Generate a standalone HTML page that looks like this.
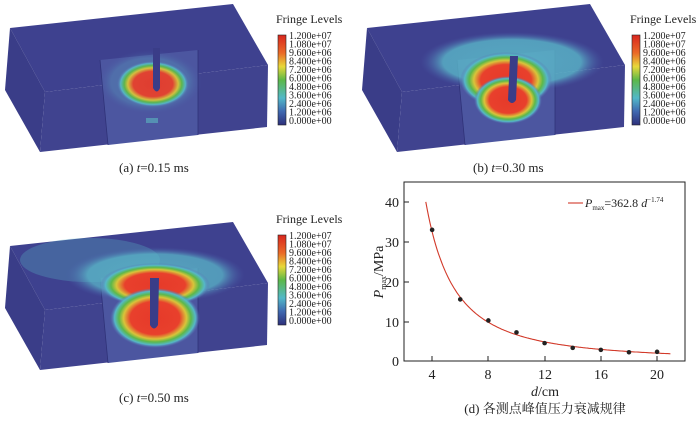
<!DOCTYPE html>
<html><head><meta charset="utf-8"><style>
html,body{margin:0;padding:0;background:#fff;width:700px;height:421px;overflow:hidden}
svg{display:block;font-family:"Liberation Serif","Noto Serif CJK SC",serif}
</style></head><body>
<svg width="700" height="421" viewBox="0 0 700 421" xmlns="http://www.w3.org/2000/svg">
<defs>
<radialGradient id="hot" cx="50%" cy="50%" r="50%">
<stop offset="0" stop-color="#e63a2a"/><stop offset="0.55" stop-color="#e8402c"/>
<stop offset="0.7" stop-color="#d9c43a"/><stop offset="0.8" stop-color="#5cb84a"/>
<stop offset="0.9" stop-color="#55b8c8"/><stop offset="1" stop-color="#5a6ab0" stop-opacity="0"/></radialGradient>
<radialGradient id="halo" cx="50%" cy="50%" r="50%">
<stop offset="0" stop-color="#5cc0cc"/><stop offset="0.75" stop-color="#5ab6c8"/>
<stop offset="1" stop-color="#4a5aa8" stop-opacity="0"/></radialGradient>
<linearGradient id="cb" x1="0" y1="0" x2="0" y2="1">
<stop offset="0" stop-color="#d8261e"/><stop offset="0.2" stop-color="#ea6a28"/>
<stop offset="0.35" stop-color="#e8d83a"/><stop offset="0.5" stop-color="#5cb848"/>
<stop offset="0.7" stop-color="#52b8c8"/><stop offset="0.85" stop-color="#3f68b0"/>
<stop offset="1" stop-color="#2d2f7a"/></linearGradient>
<g id="cbar">
<rect x="0" y="0" width="8" height="90" fill="url(#cb)" stroke="#222" stroke-width="0.6"/>
<g font-size="10" fill="#222">
<text x="11" y="4">1.200e+07</text><text x="11" y="12.5">1.080e+07</text><text x="11" y="21">9.600e+06</text>
<text x="11" y="29.5">8.400e+06</text><text x="11" y="38">7.200e+06</text><text x="11" y="46.5">6.000e+06</text>
<text x="11" y="55">4.800e+06</text><text x="11" y="63.5">3.600e+06</text><text x="11" y="72">2.400e+06</text>
<text x="11" y="80.5">1.200e+06</text><text x="11" y="89">0.000e+00</text></g>
<text x="-2" y="-12" font-size="12" fill="#222">Fringe Levels</text>
</g>
<g id="box">
<polygon points="10,28 233,4 268,65 45,92" fill="#3e418f"/>
<polygon points="10,28 45,92 40,152 5,90" fill="#3a3d88"/>
<polygon points="45,92 268,65 267,127 40,152" fill="#40438f"/>
<polygon points="100,60 198,50 198,135 108,145" fill="#4c56a0"/>
<line x1="100" y1="60" x2="108" y2="145" stroke="#2f3278" stroke-width="0.8"/>
<line x1="198" y1="50" x2="198" y2="135" stroke="#2f3278" stroke-width="0.8"/>
</g>
</defs>

<!-- panel a -->
<use href="#box"/>
<ellipse cx="150" cy="82" rx="52" ry="32" fill="url(#halo)" opacity="0.25"/>
<ellipse cx="153" cy="84" rx="36" ry="23" fill="url(#hot)" opacity="0.95"/>
<rect x="146" y="118" width="12" height="5" fill="#5cb8c0" opacity="0.6"/>
<path d="M153,48 L160,48 L160,88 Q157,95 153,88 Z" fill="#3a3d88"/>
<use href="#cbar" x="278" y="35"/>
<text x="119" y="172" font-size="13" fill="#222">(a) <tspan font-style="italic">t</tspan>=0.15 ms</text>

<!-- panel b -->
<g transform="translate(357,0)"><use href="#box"/></g>
<ellipse cx="512" cy="62" rx="92" ry="30" fill="url(#halo)" opacity="0.8"/>
<ellipse cx="506" cy="80" rx="46" ry="28" fill="url(#hot)"/>
<ellipse cx="508" cy="100" rx="34" ry="24" fill="url(#hot)"/>
<path d="M510,56 L518,56 L516,100 Q512,106 508,100 Z" fill="#3a3d88"/>
<use href="#cbar" x="632" y="35"/>
<text x="473" y="172" font-size="13" fill="#222">(b) <tspan font-style="italic">t</tspan>=0.30 ms</text>

<!-- panel c -->
<g transform="translate(0,218)"><use href="#box"/></g>
<ellipse cx="90" cy="260" rx="70" ry="22" fill="#5ab6c8" opacity="0.3"/>
<ellipse cx="155" cy="275" rx="90" ry="28" fill="url(#halo)" opacity="0.75"/>
<ellipse cx="155" cy="285" rx="55" ry="22" fill="url(#hot)"/>
<ellipse cx="155" cy="318" rx="45" ry="30" fill="url(#hot)"/>
<path d="M150,278 L159,278 L158,325 Q154,332 150,325 Z" fill="#3a3d88"/>
<use href="#cbar" x="278" y="235"/>
<text x="119" y="402" font-size="13" fill="#222">(c) <tspan font-style="italic">t</tspan>=0.50 ms</text>

<!-- panel d chart -->
<rect x="404" y="182" width="281" height="179" fill="none" stroke="#222" stroke-width="1"/>
<g stroke="#222" stroke-width="1">
<line x1="404" y1="202" x2="409" y2="202"/><line x1="404" y1="242" x2="409" y2="242"/>
<line x1="404" y1="282" x2="409" y2="282"/><line x1="404" y1="322" x2="409" y2="322"/>
<line x1="432" y1="361" x2="432" y2="356"/><line x1="488" y1="361" x2="488" y2="356"/>
<line x1="545" y1="361" x2="545" y2="356"/><line x1="601" y1="361" x2="601" y2="356"/>
<line x1="657" y1="361" x2="657" y2="356"/>
</g>
<g font-size="14" fill="#222" text-anchor="end">
<text x="399" y="207">40</text><text x="399" y="247">30</text><text x="399" y="287">20</text>
<text x="399" y="327">10</text><text x="399" y="366">0</text></g>
<g font-size="14" fill="#222" text-anchor="middle">
<text x="432" y="379">4</text><text x="488" y="379">8</text><text x="545" y="379">12</text>
<text x="601" y="379">16</text><text x="657" y="379">20</text>
<text x="545" y="396"><tspan font-style="italic">d</tspan>/cm</text>
<text x="545" y="413" font-size="13">(d) 各测点峰值压力衰减规律</text></g>
<text transform="translate(383,272) rotate(-90)" font-size="14" fill="#222" text-anchor="middle"><tspan font-style="italic">P</tspan><tspan font-size="8" dy="3">max</tspan><tspan dy="-3">/MPa</tspan></text>
<path id="fit" fill="none" stroke="#d23a2a" stroke-width="1.1" d=""/>
<g fill="#222" id="pts"></g>
<line x1="568" y1="203" x2="583" y2="203" stroke="#d23a2a" stroke-width="1.1"/>
<text x="585" y="207" font-size="12" fill="#222"><tspan font-style="italic">P</tspan><tspan font-size="7" dy="3">max</tspan><tspan dy="-3">=362.8 </tspan><tspan font-style="italic">d</tspan><tspan font-size="7" dy="-5">−1.74</tspan></text>
<script>
(function(){
var X=function(d){return 404+(d-2)*14.06},Y=function(v){return 361-v*3.975};
var s="";for(var d=3.55;d<=21.01;d+=0.1){s+=(s?"L":"M")+X(d).toFixed(1)+","+Y(362.8*Math.pow(d,-1.74)).toFixed(1);}
document.getElementById("fit").setAttribute("d",s);
var p=[[4,33],[6,15.5],[8,10.2],[10,7.2],[12,4.5],[14,3.3],[16,2.8],[18,2.2],[20,2.3]],g=document.getElementById("pts");
p.forEach(function(q){var c=document.createElementNS("http://www.w3.org/2000/svg","circle");c.setAttribute("cx",X(q[0]));c.setAttribute("cy",Y(q[1]));c.setAttribute("r","2.3");g.appendChild(c);});
})();
</script>
</svg>
</body></html>
